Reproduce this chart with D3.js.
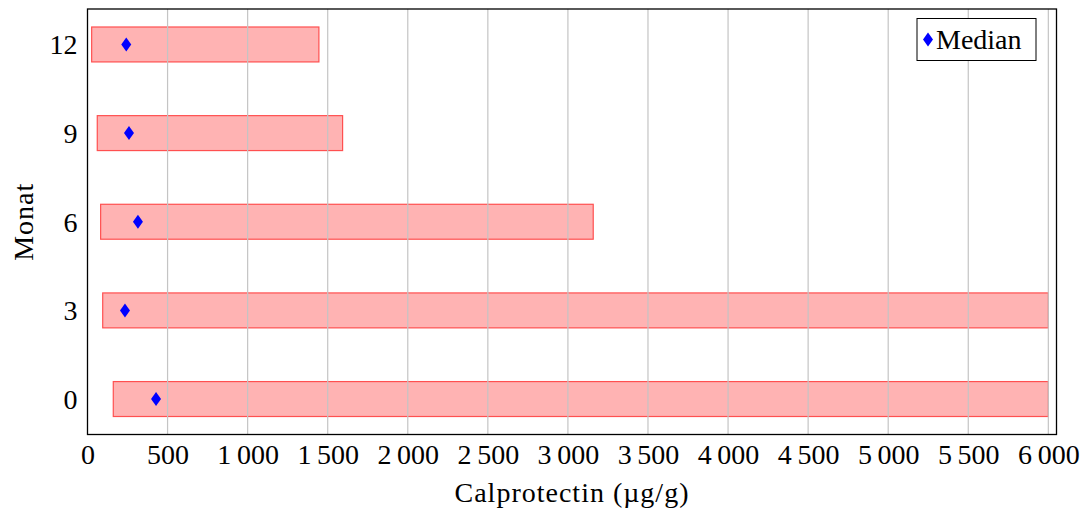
<!DOCTYPE html>
<html>
<head>
<meta charset="utf-8">
<script src="https://cdn.jsdelivr.net/npm/d3@7/dist/d3.min.js"></script>
<style>
  html, body { margin: 0; padding: 0; background: #fff; }
  svg text { font-family: "Liberation Serif", "DejaVu Serif", serif; fill: #000; }
</style>
</head>
<body>
<svg id="chart" width="1083" height="512"></svg>
<script>
// Calprotectin range (min–max) and median per follow-up month
const months = ["0", "3", "6", "9", "12"];
const rangeMin = [161, 95, 82, 61, 26];
const rangeMax = [6000, 6000, 3158, 1593, 1445];
const medians = [428, 234, 315, 259, 242];
const xTicks = [0, 500, 1000, 1500, 2000, 2500, 3000, 3500, 4000, 4500, 5000, 5500, 6000];

const svg = d3.select("#chart");
const plotLeft = 87.5, plotRight = 1056.5, plotTop = 9, plotBottom = 434.5;

const x = d3.scaleLinear().domain([0, 6051]).range([plotLeft, plotRight]);
const y = d3.scaleLinear().domain([-0.4, 4.4]).range([plotBottom, plotTop]);
const barH = y(0) - y(0.394);

const fmt = v => d3.format(",")(v).replace(/,/g, "\u2009");

// bars
svg.append("g").selectAll("rect").data(months).join("rect")
  .attr("x", (d, i) => x(rangeMin[i]))
  .attr("y", (d, i) => y(i) - barH / 2)
  .attr("width", (d, i) => x(rangeMax[i]) - x(rangeMin[i]))
  .attr("height", barH)
  .attr("fill", "#ffb3b3")
  .attr("stroke", "#ff5050")
  .attr("stroke-width", 1.2);

// vertical grid on top of the bars
svg.append("g").selectAll("line").data(xTicks.filter(v => v > 0)).join("line")
  .attr("x1", d => x(d)).attr("x2", d => x(d))
  .attr("y1", plotTop).attr("y2", plotBottom)
  .attr("stroke", "#c4c4c4").attr("stroke-width", 1.2);

// median markers
const diamond = (cx, cy) => `M${cx},${cy - 7}L${cx + 5},${cy}L${cx},${cy + 7}L${cx - 5},${cy}Z`;
svg.append("g").selectAll("path").data(medians).join("path")
  .attr("d", (d, i) => diamond(x(d), y(i)))
  .attr("fill", "#0000ff");

// frame
svg.append("rect")
  .attr("x", plotLeft).attr("y", plotTop)
  .attr("width", plotRight - plotLeft).attr("height", plotBottom - plotTop)
  .attr("fill", "none").attr("stroke", "#000").attr("stroke-width", 1.3);

// x axis labels
const xAxis = d3.axisBottom(x).tickValues(xTicks).tickFormat(fmt).tickSize(0).tickPadding(10);
const gx = svg.append("g").attr("transform", `translate(0,${plotBottom})`).call(xAxis);
gx.select(".domain").remove();
gx.selectAll("text").attr("font-size", 28).attr("dy", "0.68em")
  .style("font-family", "'Liberation Serif', serif");

// y axis labels
const yAxis = d3.axisLeft(y).tickValues(months.map((d, i) => i)).tickFormat(i => months[i]).tickSize(0).tickPadding(10);
const gy = svg.append("g").attr("transform", `translate(${plotLeft},0)`).call(yAxis);
gy.select(".domain").remove();
gy.selectAll("text").attr("font-size", 28).attr("dy", "0.34em")
  .style("font-family", "'Liberation Serif', serif");

// axis titles
svg.append("text")
  .attr("x", (plotLeft + plotRight) / 2).attr("y", 502)
  .attr("text-anchor", "middle").attr("font-size", 28).attr("letter-spacing", 1)
  .text("Calprotectin (µg/g)");
svg.append("text")
  .attr("transform", `translate(33,${(plotTop + plotBottom) / 2}) rotate(-90)`)
  .attr("text-anchor", "middle").attr("font-size", 28).attr("letter-spacing", 1)
  .text("Monat");

// legend
const lg = svg.append("g");
lg.append("rect").attr("x", 917).attr("y", 18.5).attr("width", 119).attr("height", 42)
  .attr("fill", "#fff").attr("stroke", "#000").attr("stroke-width", 1);
lg.append("path").attr("d", diamond(928, 39.5)).attr("fill", "#0000ff");
lg.append("text").attr("x", 936).attr("y", 48.5).attr("font-size", 28).text("Median");
</script>
</body>
</html>
